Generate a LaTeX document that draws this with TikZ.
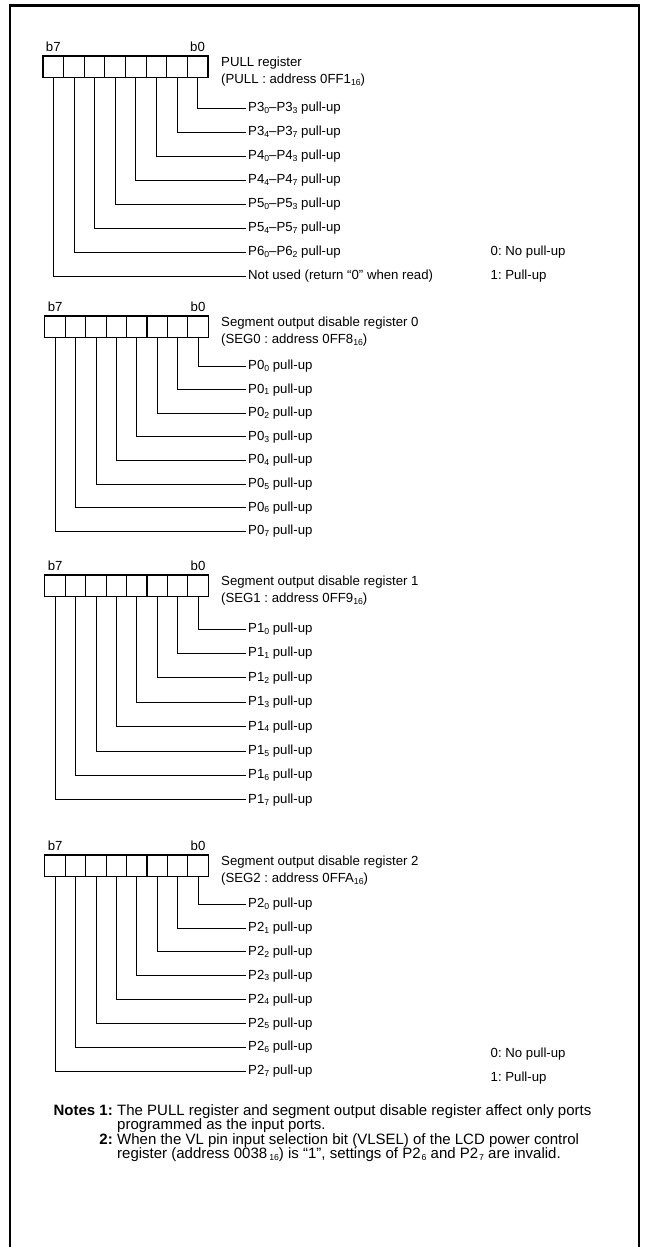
\documentclass[tikz,border=0pt]{standalone}
\usepackage{fontspec}
\setmainfont{Liberation Sans}
\newcommand\lo[1]{\raisebox{-0.25ex}{\fontsize{8.7}{8.7}\selectfont #1}}
\frenchspacing
\begin{document}
\begin{tikzpicture}[x=1pt,y=-1pt,
  cell/.style={draw, line width=0.9pt, minimum width=20.6pt, minimum height=21pt, inner sep=0pt},
  frameline/.style={line width=1.4pt},
  wire/.style={line width=0.8pt},
  lbl/.style={font=\fontsize{13.2}{15}\selectfont, inner xsep=2.5pt, inner ysep=0pt, text height=9.5pt, text depth=2.5pt, anchor=west},
  bitlbl/.style={font=\fontsize{13.2}{15}\selectfont, inner sep=0pt, anchor=south, yshift=3.5pt},
  ttl/.style={font=\fontsize{13.2}{17}\selectfont, align=left, inner sep=0pt, anchor=west},
  note/.style={font=\fontsize{15}{15}\selectfont, inner sep=0pt}]
\useasboundingbox (0,0) rectangle (647,1247);
\draw[line width=2.6pt] (10,1260) -- (10,5.5) -- (639,5.5) -- (639,1260);

% ---------- PULL register ----------
\foreach \i in {0,...,7} \node[cell] (ac\i) at ({43+(7.5-\i)*20.6},66.5) {};
\draw[frameline] (ac7.north west) rectangle (ac0.south east);
\node[bitlbl] (ab7) at (ac7.north) {b7};
\node[bitlbl] (ab0) at (ac0.north) {b0};
\node[ttl] (at) at (221,71.5) {PULL register\\(PULL : address 0FF1\lo{16})};
\node[lbl] (al0) at (245.5,108) {P3\lo{0}–P3\lo{3} pull-up};
\node[lbl] (al1) at (245.5,132) {P3\lo{4}–P3\lo{7} pull-up};
\node[lbl] (al2) at (245.5,156) {P4\lo{0}–P4\lo{3} pull-up};
\node[lbl] (al3) at (245.5,180) {P4\lo{4}–P4\lo{7} pull-up};
\node[lbl] (al4) at (245.5,204) {P5\lo{0}–P5\lo{3} pull-up};
\node[lbl] (al5) at (245.5,228) {P5\lo{4}–P5\lo{7} pull-up};
\node[lbl] (al6) at (245.5,252) {P6\lo{0}–P6\lo{2} pull-up};
\node[lbl] (al7) at (245.5,276) {Not used (return “0” when read)};
\foreach \i in {0,...,7} \draw[wire] (ac\i.south) |- (al\i.west);
\node[lbl] (aleg0) at (488,252) {0: No pull-up};
\node[lbl] (aleg1) at (488,276) {1: Pull-up};

% ---------- SEG0 ----------
\foreach \i in {0,...,7} \node[cell] (bc\i) at ({45+(7.5-\i)*20.4},326.5) {};
\draw[frameline] (bc7.north west) rectangle (bc0.south east);
\node[bitlbl] (bb7) at (bc7.north) {b7};
\node[bitlbl] (bb0) at (bc0.north) {b0};
\node[ttl] (bt) at (221,331.5) {Segment output disable register 0\\(SEG0 : address 0FF8\lo{16})};
\foreach \i in {0,...,7} {
  \node[lbl] (bl\i) at (245.5,{366+23.6*\i}) {P0\lo{\i} pull-up};
  \draw[wire] (bc\i.south) |- (bl\i.west);
}

% ---------- SEG1 ----------
\foreach \i in {0,...,7} \node[cell] (cc\i) at ({45+(7.5-\i)*20.4},585.5) {};
\draw[frameline] (cc7.north west) rectangle (cc0.south east);
\node[bitlbl] (cb7) at (cc7.north) {b7};
\node[bitlbl] (cb0) at (cc0.north) {b0};
\node[ttl] (ct) at (221,590.5) {Segment output disable register 1\\(SEG1 : address 0FF9\lo{16})};
\foreach \i in {0,...,7} {
  \node[lbl] (cl\i) at (245.5,{629+24.4*\i}) {P1\lo{\i} pull-up};
  \draw[wire] (cc\i.south) |- (cl\i.west);
}

% ---------- SEG2 ----------
\foreach \i in {0,...,7} \node[cell] (dc\i) at ({45+(7.5-\i)*20.4},865.5) {};
\draw[frameline] (dc7.north west) rectangle (dc0.south east);
\node[bitlbl] (db7) at (dc7.north) {b7};
\node[bitlbl] (db0) at (dc0.north) {b0};
\node[ttl] (dt) at (221,870.5) {Segment output disable register 2\\(SEG2 : address 0FFA\lo{16})};
\foreach \i in {0,...,7} {
  \node[lbl] (dl\i) at (245.5,{904+23.9*\i}) {P2\lo{\i} pull-up};
  \draw[wire] (dc\i.south) |- (dl\i.west);
}
\node[lbl] (dleg0) at (488,1054) {0: No pull-up};
\node[lbl] (dleg1) at (488,1078) {1: Pull-up};

% ---------- Notes ----------
\node[note, anchor=base east] (n1h) at (113,1115) {\textbf{Notes 1:}};
\node[note, anchor=base west] (n1t) at (117,1115) {The PULL register and segment output disable register affect only ports};
\node[note, anchor=base west] (n1u) at (117,1129.5) {programmed as the input ports.};
\node[note, anchor=base east] (n2h) at (113,1144) {\textbf{2:}};
\node[note, anchor=base west] (n2t) at (117,1144) {When the VL pin input selection bit (VLSEL) of the LCD power control};
\node[note, anchor=base west] (n2u) at (117,1158.5) {register (address 0038\kern2pt\lo{16}) is “1”, settings of P2\kern1pt\lo{6} and P2\kern1pt\lo{7} are invalid.};
\end{tikzpicture}
\end{document}
